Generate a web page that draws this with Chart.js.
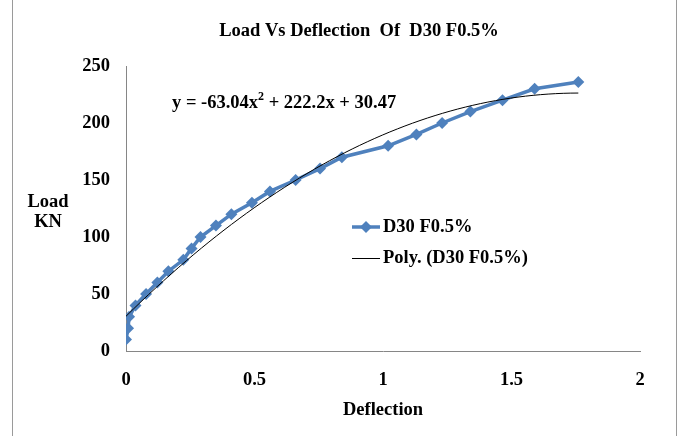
<!DOCTYPE html>
<html>
<head>
<meta charset="utf-8">
<title>Load Vs Deflection Of D30 F0.5%</title>
<script src="https://cdn.jsdelivr.net/npm/chart.js@4.4.0/dist/chart.umd.min.js"></script>
<style>
    html, body { margin: 0; padding: 0; background: #fff; }
    #wrap { width: 682px; height: 436px; position: relative; }
</style>
</head>
<body>
<div id="wrap"><canvas id="loadChart" width="682" height="436"></canvas></div>
<script>
// Test readings: deflection (mm) and load (KN)
const deflection = [0, 0.008, 0.012, 0.037, 0.078, 0.122, 0.165, 0.223, 0.255, 0.29, 0.35, 0.41,
                    0.49, 0.56, 0.66, 0.755, 0.84, 1.02, 1.13, 1.23, 1.34, 1.465, 1.59, 1.76];
const load = [10, 20, 30, 40, 50, 60, 70, 80, 90, 100, 110, 120,
              130, 140, 150, 160, 170, 180, 190, 200, 210, 220, 230, 236];

// Excel polynomial trendline (order 2): a*x^2 + b*x + c
const polyCoef = [-63.04, 222.2, 30.47];
const xTicks = [0, 0.5, 1, 1.5, 2];
const yTicks = [0, 50, 100, 150, 200, 250];

const seriesName = 'D30 F0.5%';
const chartTitle = 'Load Vs Deflection  Of  D30 F0.5%';

const blue = '#4F81BD';
const fontFamily = '"Liberation Serif", "Times New Roman", serif';
const textFont = 'bold 18.5px ' + fontFamily;

// trendline runs over the measured deflection range
const trendPts = [];
const xEnd = deflection[deflection.length - 1];
for (let i = 0; i <= 60; i++) {
    const x = xEnd * i / 60;
    trendPts.push({ x: x, y: polyCoef[0] * x * x + polyCoef[1] * x + polyCoef[2] });
}

const readings = deflection.map((d, i) => ({ x: d, y: load[i] }));

// equation label with a raised "2"
function drawEquation(ctx, x, y) {
    const a = 'y = ' + polyCoef[0].toFixed(2) + 'x';
    const b = ' + ' + polyCoef[1] + 'x + ' + polyCoef[2];
    ctx.font = textFont;
    ctx.fillText(a, x, y);
    x += ctx.measureText(a).width;
    ctx.font = 'bold 12px ' + fontFamily;
    ctx.fillText('2', x, y - 6);
    x += ctx.measureText('2').width;
    ctx.font = textFont;
    ctx.fillText(b, x, y);
}

// titles, equation, legend and frame drawn straight on the canvas
const extras = {
    id: 'extras',
    beforeDraw(chart) {
        const ctx = chart.ctx;
        ctx.save();
        ctx.fillStyle = '#fff';
        ctx.fillRect(0, 0, chart.width, chart.height);
        ctx.strokeStyle = '#9a9a9a';
        ctx.lineWidth = 1;
        ctx.strokeRect(12.5, -2, 664, 442);
        ctx.restore();
    },
    afterDraw(chart) {
        const ctx = chart.ctx;
        const area = chart.chartArea;
        ctx.save();
        ctx.fillStyle = '#000';
        ctx.font = textFont;
        ctx.textBaseline = 'middle';

        ctx.textAlign = 'center';
        ctx.fillText(chartTitle, 359, 31);
        ctx.fillText('Deflection', (area.left + area.right) / 2, 410);
        ctx.fillText('Load', 48, 202);
        ctx.fillText('KN', 48, 222);

        ctx.textAlign = 'left';
        drawEquation(ctx, 172, 103);

        // legend
        ctx.strokeStyle = blue;
        ctx.lineWidth = 3.5;
        ctx.beginPath();
        ctx.moveTo(352, 227);
        ctx.lineTo(380, 227);
        ctx.stroke();
        ctx.fillStyle = blue;
        ctx.beginPath();
        ctx.moveTo(366, 221);
        ctx.lineTo(372, 227);
        ctx.lineTo(366, 233);
        ctx.lineTo(360, 227);
        ctx.closePath();
        ctx.fill();

        ctx.strokeStyle = '#000';
        ctx.lineWidth = 1;
        ctx.beginPath();
        ctx.moveTo(352, 258.5);
        ctx.lineTo(380, 258.5);
        ctx.stroke();

        ctx.fillStyle = '#000';
        ctx.font = textFont;
        ctx.fillText(seriesName, 383, 227);
        ctx.fillText('Poly. (' + seriesName + ')', 383, 258);
        ctx.restore();
    }
};

const tickFont = { family: fontFamily, size: 18.5, weight: 'bold' };

new Chart(document.getElementById('loadChart').getContext('2d'), {
    type: 'scatter',
    data: {
        datasets: [{
            label: 'Poly. (' + seriesName + ')',
            data: trendPts,
            showLine: true,
            borderColor: '#000',
            borderWidth: 1,
            pointRadius: 0,
            fill: false,
            order: 0
        }, {
            label: seriesName,
            data: readings,
            showLine: true,
            borderColor: blue,
            backgroundColor: blue,
            borderWidth: 3.5,
            pointStyle: 'rectRot',
            pointRadius: 6,
            pointBorderWidth: 0,
            fill: false,
            order: 1
        }]
    },
    options: {
        responsive: false,
        animation: false,
        layout: { padding: { left: 0, top: 66, right: 42, bottom: 0 } },
        plugins: {
            legend: { display: false },
            tooltip: { enabled: false },
            title: { display: false }
        },
        scales: {
            x: {
                type: 'linear',
                min: xTicks[0],
                max: xTicks[xTicks.length - 1],
                afterBuildTicks: scale => { scale.ticks = xTicks.map(v => ({ value: v })); },
                afterFit: scale => { scale.height = 85; },
                grid: { display: false, drawTicks: false },
                border: { display: true, color: '#868686', width: 1 },
                ticks: {
                    color: '#000',
                    padding: 18,
                    maxRotation: 0,
                    font: tickFont,
                    callback: v => String(v)
                }
            },
            y: {
                min: yTicks[0],
                max: yTicks[yTicks.length - 1],
                afterBuildTicks: scale => { scale.ticks = yTicks.map(v => ({ value: v })); },
                afterFit: scale => { scale.width = 126; },
                grid: { display: false, drawTicks: false },
                border: { display: true, color: '#868686', width: 1 },
                ticks: {
                    color: '#000',
                    padding: 16,
                    font: tickFont,
                    callback: v => String(v)
                }
            }
        }
    },
    plugins: [extras]
});
</script>
</body>
</html>
